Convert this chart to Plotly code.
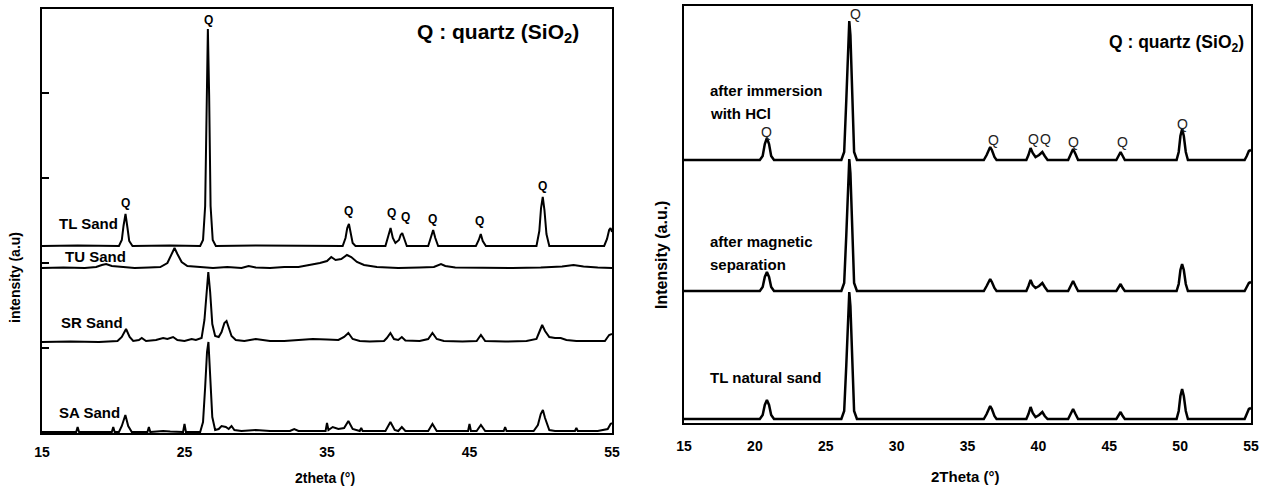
import plotly.graph_objects as go
from plotly.subplots import make_subplots

# ---------------- data (2theta in degrees, intensity in a.u. above own baseline) -------------
tick_left = [15, 25, 35, 45, 55]
tick_right = [15, 20, 25, 30, 35, 40, 45, 50, 55]

tl_sand = [(15, 0), (17.5, 0.5), (20.4, 0), (20.6, 6), (20.72, 20), (20.86, 32), (21.0, 18), (21.12, 5),
           (21.35, 0), (24, 0.5), (26.1, 0), (26.3, 6), (26.45, 40), (26.55, 150), (26.64, 217),
           (26.73, 150), (26.83, 40), (26.98, 6), (27.2, 0), (30, 0.5), (34, 0), (36.1, 0), (36.3, 8),
           (36.42, 18), (36.54, 22), (36.66, 14), (36.8, 3), (37.0, 0), (39.1, 0), (39.3, 10), (39.46, 18),
           (39.62, 8), (39.8, 3), (40.05, 6), (40.17, 11), (40.28, 13), (40.4, 8), (40.6, 0), (42.1, 0),
           (42.3, 9), (42.45, 16), (42.6, 8), (42.8, 0), (45.45, 0), (45.65, 6), (45.79, 12), (45.93, 5),
           (46.15, 0), (49.7, 0), (49.9, 15), (50.02, 38), (50.14, 49), (50.26, 36), (50.4, 12), (50.6, 0),
           (54.45, 0), (54.65, 7), (54.8, 16), (54.9, 18), (55.0, 14)]

tu_sand = [(15, 0), (16.5, 0.5), (18, 0), (18.8, 1), (19.2, 3), (19.5, 4), (19.9, 2), (20.5, 1), (21.5, 0),
           (22.5, 0.5), (23.3, 1), (23.8, 5), (24.1, 14), (24.3, 20), (24.5, 14), (24.8, 6), (25.2, 2),
           (26, 1), (27, 0), (28, 1), (29, 0), (29.5, 2), (30, 0.5), (31, 0), (32, 1), (33, 1), (33.8, 3),
           (34.5, 5), (35.0, 7), (35.3, 11), (35.6, 8), (36.0, 9), (36.4, 13), (36.7, 11), (37.1, 6),
           (37.6, 3), (38.5, 1), (40, 0), (41.5, 0.5), (42.5, 1), (43.0, 4), (43.3, 2), (44, 0.5), (46, 0),
           (48, 0), (50, 0.5), (51.5, 1.5), (52.3, 3), (53, 1.5), (54, 0.5), (55, 0)]

sr_sand = [(15, 0), (17, 0.5), (19, 0), (20.3, 1), (20.6, 5), (20.9, 13), (21.15, 5), (21.4, 1), (21.8, 2),
           (22.0, 4), (22.3, 1), (23, 2), (23.5, 4), (23.8, 3), (24.2, 5), (24.5, 2), (25, 1), (25.5, 3),
           (25.8, 2), (26.2, 4), (26.4, 22), (26.55, 55), (26.67, 70), (26.8, 50), (26.95, 18), (27.15, 6),
           (27.4, 5), (27.6, 10), (27.8, 19), (27.95, 21), (28.1, 15), (28.3, 6), (28.6, 2), (29.2, 1),
           (30, 3), (30.5, 2), (31, 1), (32, 1), (33, 2), (34, 3), (35, 2.5), (35.8, 2), (36.2, 5),
           (36.5, 9), (36.8, 3), (37.3, 1), (38, 0.5), (39, 1), (39.2, 4), (39.45, 9), (39.7, 3), (40.0, 2),
           (40.25, 5), (40.5, 1.5), (41.5, 1), (42.1, 3), (42.4, 9), (42.7, 3), (43.2, 1), (44.5, 0.5),
           (45.5, 1), (45.8, 7), (46.1, 1), (47.5, 0.5), (49, 1), (49.7, 3), (49.9, 10), (50.1, 17),
           (50.3, 11), (50.6, 5), (51.0, 4), (51.4, 4), (51.8, 2), (52.5, 1), (53.5, 1), (54.5, 1),
           (54.8, 7), (55, 8)]

sa_sand = [(15, 0), (17.4, 0), (17.5, 5), (17.6, 0), (19.9, 0), (20.0, 5), (20.1, 0), (20.4, 0), (20.6, 6),
           (20.85, 17), (21.05, 6), (21.3, 0), (22.4, 0), (22.5, 5), (22.6, 0), (23.5, 1), (24, 0.5),
           (24.9, 0), (25.0, 8), (25.1, 0), (26.1, 0), (26.3, 10), (26.45, 45), (26.58, 80), (26.68, 90),
           (26.8, 60), (26.95, 15), (27.15, 2), (27.4, 3), (27.6, 6), (27.9, 5), (28.1, 3), (28.3, 6),
           (28.5, 2), (29, 1), (30, 2), (31, 1), (32.4, 1), (32.7, 3), (33, 1), (34, 1), (34.9, 1),
           (35.0, 9), (35.1, 2), (35.4, 5), (35.8, 3), (36.2, 4), (36.5, 11), (36.8, 3), (37.3, 1),
           (37.4, 4), (37.5, 1), (39.1, 1), (39.45, 10), (39.75, 2), (40.0, 1), (40.25, 5), (40.5, 1),
           (42.1, 1), (42.4, 8), (42.7, 1), (44.9, 1), (45.0, 8), (45.1, 1), (45.5, 1), (45.8, 7),
           (46.1, 1), (47.4, 1), (47.5, 5), (47.6, 1), (49.5, 1), (49.8, 7), (50.0, 18), (50.15, 22),
           (50.3, 14), (50.6, 2), (51, 1), (52.4, 1), (52.5, 4), (52.6, 1), (54, 1), (54.7, 3), (54.9, 8),
           (55, 9)]

hcl_sand = [(15, 0), (20.35, 0), (20.55, 4), (20.7, 16), (20.85, 22), (21.0, 16), (21.15, 4), (21.35, 0),
            (26.1, 0), (26.3, 8), (26.45, 60), (26.58, 125), (26.66, 139), (26.74, 125), (26.87, 60),
            (27.0, 8), (27.2, 0), (36.15, 0), (36.35, 5), (36.5, 11), (36.6, 13), (36.72, 10), (36.9, 3),
            (37.05, 0), (39.15, 0), (39.3, 5), (39.45, 12), (39.6, 7), (39.8, 3), (40.05, 5), (40.28, 8),
            (40.45, 4), (40.65, 0), (42.1, 0), (42.28, 6), (42.45, 11), (42.62, 6), (42.8, 0), (45.5, 0),
            (45.65, 4), (45.8, 8), (45.95, 4), (46.1, 0), (49.75, 0), (49.9, 8), (50.02, 24), (50.14, 31),
            (50.26, 24), (50.4, 8), (50.55, 0), (54.55, 0), (54.7, 4), (54.85, 9), (55.0, 10)]

mag_sand = [(15, 0), (20.35, 0), (20.55, 4), (20.7, 14), (20.85, 19), (21.0, 14), (21.15, 4), (21.35, 0),
            (26.1, 0), (26.3, 8), (26.45, 56), (26.58, 118), (26.66, 132), (26.74, 118), (26.87, 56),
            (27.0, 8), (27.2, 0), (36.15, 0), (36.35, 5), (36.5, 10), (36.6, 12), (36.72, 9), (36.9, 3),
            (37.05, 0), (39.15, 0), (39.3, 5), (39.45, 11), (39.6, 6), (39.8, 3), (40.05, 5), (40.28, 8),
            (40.45, 4), (40.65, 0), (42.1, 0), (42.28, 5), (42.45, 10), (42.62, 5), (42.8, 0), (45.5, 0),
            (45.65, 3), (45.8, 7), (45.95, 3), (46.1, 0), (49.75, 0), (49.9, 7), (50.02, 21), (50.14, 27),
            (50.26, 21), (50.4, 7), (50.55, 0), (54.55, 0), (54.7, 4), (54.85, 8), (55.0, 9)]

nat_sand = [(15, 0), (20.35, 0), (20.55, 4), (20.7, 14), (20.85, 19), (21.0, 14), (21.15, 4), (21.35, 0),
            (26.1, 0), (26.3, 8), (26.45, 54), (26.58, 113), (26.66, 127), (26.74, 113), (26.87, 54),
            (27.0, 8), (27.2, 0), (36.15, 0), (36.35, 5), (36.5, 11), (36.6, 13), (36.72, 10), (36.9, 3),
            (37.05, 0), (39.15, 0), (39.3, 5), (39.45, 12), (39.6, 6), (39.8, 2), (40.05, 4), (40.28, 7),
            (40.45, 3), (40.65, 0), (42.1, 0), (42.28, 5), (42.45, 10), (42.62, 5), (42.8, 0), (45.5, 0),
            (45.65, 3), (45.8, 7), (45.95, 3), (46.1, 0), (49.75, 0), (49.9, 8), (50.02, 23), (50.14, 30),
            (50.26, 23), (50.4, 8), (50.55, 0), (54.55, 0), (54.7, 5), (54.85, 10), (55.0, 11)]

# stacking baselines (a.u.)
left_names = ["TL Sand", "TU Sand", "SR Sand", "SA Sand"]
left_offsets = [187, 165, 91, 1]
right_names = ["after immersion with HCl", "after magnetic separation", "TL natural sand"]
right_offsets = [263, 132, 4]

# quartz peak marker labels: (2theta, intensity a.u.)
q_left = [(20.89, 230), (26.69, 413), (36.5, 222), (39.5, 220), (40.5, 216), (42.4, 214), (45.7, 212), (50.1, 247)]
q_right = [(20.85, 291), (27.1, 409), (36.86, 283), (39.68, 284), (40.53, 284), (42.5, 281), (45.96, 281), (50.19, 299)]

# ---------------- figure ----------------
W, H = 1268, 490
fig = make_subplots(rows=1, cols=2)

FONT = "Liberation Sans, Arial, sans-serif"

for series, off, name in zip([tl_sand, tu_sand, sr_sand, sa_sand], left_offsets, left_names):
    fig.add_trace(go.Scatter(x=[p[0] for p in series], y=[p[1] + off for p in series], mode="lines",
                             line=dict(color="black", width=2), name=name, showlegend=False,
                             hoverinfo="skip"), row=1, col=1)

for series, off, name in zip([hcl_sand, mag_sand, nat_sand], right_offsets, right_names):
    fig.add_trace(go.Scatter(x=[p[0] for p in series], y=[p[1] + off for p in series], mode="lines",
                             line=dict(color="black", width=2.5), name=name, showlegend=False,
                             hoverinfo="skip"), row=1, col=2)


def px_x(p):
    return p / W


def px_y(p):
    return 1 - p / H


axis_common = dict(showline=True, mirror=True, linecolor="black", linewidth=2, showgrid=False,
                   zeroline=False)

fig.update_layout(
    width=W, height=H, margin=dict(l=0, r=0, t=0, b=0),
    paper_bgcolor="white", plot_bgcolor="white", showlegend=False,
    font=dict(family=FONT, color="black"),
    xaxis=dict(domain=[px_x(42), px_x(612)], range=[15, 55], tickvals=tick_left, ticks="",
               ticklabelstandoff=5,
               tickfont=dict(size=14, weight="bold", family=FONT), automargin=False, **axis_common),
    yaxis=dict(domain=[px_y(433), px_y(9)], range=[0, 424], tickvals=[85, 170, 255, 340], ticks="inside",
               ticklen=7, tickwidth=2, tickcolor="black", showticklabels=False, automargin=False,
               **axis_common),
    xaxis2=dict(domain=[px_x(684), px_x(1251)], range=[15, 55], tickvals=tick_right, ticks="",
                ticklabelstandoff=9,
                tickfont=dict(size=14, weight="bold", family=FONT), automargin=False, **axis_common),
    yaxis2=dict(domain=[px_y(423), px_y(6)], range=[0, 417], ticks="", showticklabels=False,
                automargin=False, **axis_common),
)

ann = []
# series labels
bold15 = dict(size=15, weight="bold", family=FONT, color="black")
left_label_pos = [(16.05, 210), (16.47, 177), (16.2, 111), (16.05, 21)]
for (x, y), t in zip(left_label_pos, left_names):
    ann.append(dict(x=x, y=y, xref="x", yref="y", text=t, showarrow=False, xanchor="left",
                    yanchor="middle", font=bold15))
right_label_text = ["after immersion", "with HCl", "after magnetic", "separation", "TL natural sand"]
right_label_pos = [(16.7, 333), (16.7, 310), (16.7, 182), (16.7, 159), (16.7, 46)]
for (x, y), t in zip(right_label_pos, right_label_text):
    ann.append(dict(x=x, y=y, xref="x2", yref="y2", text=t, showarrow=False, xanchor="left",
                    yanchor="middle", font=bold15))

# Q labels
for x, y in q_left:
    ann.append(dict(x=x, y=y, xref="x", yref="y", text="Q", showarrow=False, xanchor="center",
                    yanchor="middle", font=dict(size=12, weight="bold", family=FONT, color="black")))
for x, y in q_right:
    ann.append(dict(x=x, y=y, xref="x2", yref="y2", text="Q", showarrow=False, xanchor="center",
                    yanchor="middle", font=dict(size=14, family=FONT, color="#222222")))

# key
ann.append(dict(x=px_x(498), y=px_y(33), xref="paper", yref="paper", text="Q : quartz (SiO<sub>2</sub>)",
                showarrow=False, xanchor="center", yanchor="middle",
                font=dict(size=21, weight="bold", family=FONT, color="black")))
ann.append(dict(x=px_x(1176), y=px_y(44), xref="paper", yref="paper", text="Q : quartz (SiO<sub>2</sub>)",
                showarrow=False, xanchor="center", yanchor="middle",
                font=dict(size=17.5, weight="bold", family=FONT, color="black")))

# axis titles
ann.append(dict(x=px_x(325), y=px_y(478), xref="paper", yref="paper", text="2theta (°)", showarrow=False,
                xanchor="center", yanchor="middle", font=dict(size=14, weight="bold", family=FONT)))
ann.append(dict(x=px_x(965), y=px_y(476), xref="paper", yref="paper", text="2Theta (°)", showarrow=False,
                xanchor="center", yanchor="middle", font=dict(size=15, weight="bold", family=FONT)))
ann.append(dict(x=px_x(15), y=px_y(278), xref="paper", yref="paper", text="intensity (a.u)", showarrow=False,
                textangle=-90, xanchor="center", yanchor="middle", font=dict(size=14, weight="bold", family=FONT)))
ann.append(dict(x=px_x(661), y=px_y(255), xref="paper", yref="paper", text="Intensity (a.u.)",
                showarrow=False, textangle=-90, xanchor="center", yanchor="middle",
                font=dict(size=16, weight="bold", family=FONT)))

fig.update_layout(annotations=ann)
fig.write_html("out.html", config={"displayModeBar": False},
               post_script="document.body.style.margin='0px';document.body.style.overflow='hidden';")
